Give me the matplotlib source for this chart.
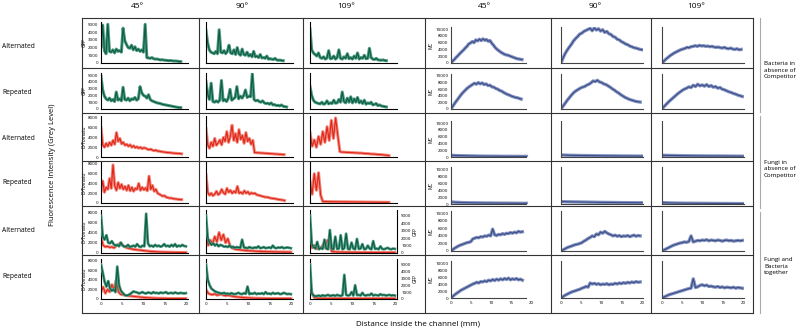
import numpy as np
import matplotlib.pyplot as plt
from matplotlib.lines import Line2D

plt.rcParams['font.family'] = ['Open Sans', 'DejaVu Sans']

W, H = 800, 330

angles = ["45°", "90°", "109°"]
row_names = ["Alternated", "Repeated", "Alternated", "Repeated", "Alternated", "Repeated"]
groups = ["Bacteria in\nabsence of\nCompetitor", "Fungi in\nabsence of\nCompetitor", "Fungi and\nBacteria\ntogether"]
dist_ticks = [0, 5, 10, 15, 20]

# GFP, bacteria alone (grey level), 45 / 90 / 109 degrees
gfp_alt_45 = [2100, 4900, 1600, 1200, 5000, 1500, 1400, 1700, 1300, 1800, 1500, 1600, 1400, 4500, 2900, 2400,
              2000, 1900, 2300, 1700, 2100, 1600, 1800, 1500, 1700, 1400, 5000, 700, 650, 600, 700, 550,
              500, 520, 450, 400, 420, 380, 350, 330, 300, 320, 280, 250, 260, 230, 200, 180]
gfp_alt_90 = [4200, 2600, 1700, 1400, 1300, 1200, 1500, 1200, 4300, 1400, 1300, 1600, 1200, 1500, 2300, 1300,
              1200, 1700, 1100, 2000, 1200, 1000, 1800, 1100, 1000, 1400, 900, 1100, 800, 1500, 800, 900,
              700, 1100, 650, 700, 600, 900, 500, 550, 500, 450, 600, 400, 350, 380, 320, 300]
gfp_alt_109 = [4400, 1700, 1300, 1100, 900, 1300, 700, 600, 800, 500, 650, 1600, 550, 600, 900, 500,
               700, 1700, 600, 500, 800, 600, 1200, 550, 700, 500, 900, 600, 1300, 500, 700, 600,
               1000, 550, 600, 1900, 700, 500, 450, 600, 400, 380, 350, 400, 330, 300]
gfp_rep_45 = [4800, 2800, 1900, 1500, 1300, 1600, 1200, 1400, 1100, 2500, 1300, 1500, 1200, 3200, 1400, 1300,
              1600, 1200, 1500, 1400, 1700, 1300, 1500, 3300, 2400, 2000, 1900, 1600, 2100, 1400, 1200, 1100,
              1000, 900, 850, 800, 700, 650, 600, 550, 500, 450, 400, 350, 300, 250, 220, 200]
gfp_rep_90 = [4000, 2200, 1400, 3800, 1100, 1000, 1200, 1000, 1300, 4200, 1200, 1400, 1100, 1600, 2900, 1300,
              1500, 1700, 3300, 1500, 1900, 1600, 2000, 2800, 1700, 1900, 1800, 5200, 1400, 1200, 1300, 1100,
              1000, 1200, 900, 800, 850, 700, 900, 600, 650, 500, 550, 450, 600, 400, 350, 300]
gfp_rep_109 = [3300, 2000, 1300, 1000, 900, 800, 750, 1000, 700, 800, 1200, 750, 900, 800, 1300, 850,
               900, 1400, 1000, 2500, 1100, 900, 1600, 1000, 1800, 900, 1500, 1000, 1700, 900, 1200, 800,
               1300, 700, 900, 800, 1000, 600, 700, 800, 500, 600, 450, 400, 350, 300]
gfp_alt_end = [18.8, 18.2, 18.0]
gfp_rep_end = [18.8, 19.0, 18.0]

# D-Tomato, fungi alone
tom_alt_45 = [6000, 2500, 2000, 2800, 2200, 3000, 2400, 3400, 2600, 5000, 3200, 3800, 2700, 3000, 2400, 2600,
              2200, 2500, 2000, 2300, 1900, 2100, 1800, 2000, 1700, 1900, 1800, 1600, 1500, 1600, 1400, 1300,
              1400, 1200, 1200, 1100, 1050, 1000, 950, 900, 900, 850, 800, 750, 750, 700, 700, 650]
tom_alt_90 = [5800, 2500, 1800, 3000, 2200, 3800, 2400, 2900, 3500, 2500, 4000, 3200, 5200, 3000, 4200, 6500,
              3400, 4800, 3000, 5600, 3600, 4400, 2800, 5000, 3200, 3800, 2600, 3400, 900, 900, 850, 850,
              800, 800, 750, 750, 700, 700, 650, 650, 600, 600, 550, 550, 500, 500]
tom_alt_109 = [5000, 2200, 3500, 2000, 4200, 2600, 5200, 3000, 6200, 3400, 7500, 3800, 8000, 4500, 1100, 1000,
               1000, 950, 950, 900, 900, 850, 850, 800, 800, 750, 700, 700, 650, 600, 600, 550,
               500, 500, 450, 400, 350, 300]
tom_rep_45 = [2500, 4500, 2200, 3200, 2800, 5000, 3000, 7800, 3500, 2600, 4200, 3000, 3800, 2800, 3400, 2600,
              3600, 2500, 3200, 2400, 3000, 2800, 4000, 2600, 3200, 2700, 3100, 2500, 5500, 2800, 3600, 2400,
              2800, 2000, 1800, 1600, 1400, 1500, 1200, 1100, 1000, 1000, 900, 850, 800, 750, 700, 700]
tom_rep_90 = [5800, 2200, 1600, 2000, 1500, 1800, 2400, 1700, 2000, 2800, 2100, 1800, 3000, 2200, 2600, 2000,
              2400, 2100, 3400, 2000, 2200, 1900, 2500, 2000, 2300, 1800, 2100, 1900, 2000, 1700, 1600, 1500,
              1400, 1300, 1200, 1200, 1100, 1000, 950, 900, 850, 750, 700, 650, 600, 500]
tom_rep_109 = [4500, 1800, 6000, 2600, 6200, 1600, 300, 300, 280, 280, 270, 260, 260, 250, 250, 240,
               240, 230, 230, 220, 220, 210, 210, 200, 200, 190, 190, 180, 180, 170, 170, 160,
               160, 150, 150, 150, 140, 140]
tom_alt_end = [19.0, 18.4, 18.6]
tom_rep_end = [19.0, 18.5, 18.6]

# fungi + bacteria together: GFP (right scale) and D-Tomato (left scale)
mix_gfp_alt_45 = [5000, 2200, 1800, 2400, 1400, 1300, 1600, 1200, 1000, 1100, 900, 1400, 1000, 850, 900, 1100,
                  800, 900, 1000, 850, 1200, 900, 800, 1000, 900, 5300, 1300, 900, 1000, 850, 1100, 900,
                  1000, 850, 950, 1200, 900, 1000, 850, 1100, 900, 1200, 850, 1000, 900, 1100, 950, 900]
mix_gfp_alt_90 = [5000, 2000, 1400, 1100, 1300, 1000, 1200, 900, 1100, 1000, 850, 900, 800, 1000, 750, 850,
                  700, 800, 750, 700, 1800, 750, 700, 650, 800, 700, 650, 750, 700, 900, 650, 700,
                  800, 650, 700, 750, 650, 1000, 700, 650, 750, 700, 800, 650, 700, 750, 700, 650]
mix_gfp_alt_109 = [5000, 1200, 800, 600, 1500, 500, 700, 550, 1800, 600, 500, 3100, 600, 500, 2200, 550,
                   600, 2400, 500, 650, 2600, 550, 500, 1400, 600, 500, 1900, 550, 600, 1200, 500, 550,
                   1000, 600, 500, 1600, 550, 600, 500, 900, 550, 500, 600, 700, 550, 500, 600, 550]
mix_gfp_rep_45 = [5000, 3800, 2500, 1800, 2600, 1500, 1200, 1400, 1000, 4700, 2000, 1200, 900, 600, 500, 550,
                  700, 900, 1100, 1000, 950, 800, 900, 1000, 850, 800, 950, 900, 800, 1000, 850, 900,
                  800, 950, 850, 900, 1000, 800, 850, 900, 800, 950, 850, 800, 900, 850, 800, 850]
mix_gfp_rep_90 = [5000, 2800, 2000, 1500, 1300, 1100, 1000, 900, 850, 800, 900, 750, 800, 700, 850, 750,
                  700, 800, 900, 750, 700, 850, 750, 1800, 700, 800, 750, 900, 700, 800, 750, 850,
                  700, 1000, 750, 800, 700, 900, 750, 800, 850, 700, 750, 900, 800, 700, 750, 700]
mix_gfp_rep_109 = [5000, 800, 500, 400, 450, 500, 400, 550, 450, 500, 600, 450, 500, 550, 450, 600,
                   500, 450, 550, 3500, 600, 500, 550, 1000, 500, 2000, 550, 600, 500, 900, 550, 500,
                   600, 550, 800, 500, 600, 550, 500, 700, 550, 600, 500, 550, 600, 500, 550, 500]
mix_tom_alt_45 = [3000, 1500, 1200, 1300, 1100, 1200, 1000, 1400, 1600, 2000, 1500, 1200, 1000, 900, 800, 700,
                  650, 600, 550, 500, 450, 400, 350, 300, 280, 250, 230, 200, 180, 170, 160, 150,
                  140, 130, 120, 120, 110, 110, 100, 100]
mix_tom_alt_90 = [4000, 1500, 2500, 1800, 3200, 2200, 4000, 2500, 3600, 2000, 2800, 1500, 1000, 800, 700, 650,
                  600, 550, 500, 450, 450, 400, 380, 350, 330, 300, 300, 280, 260, 250, 240, 230,
                  220, 210, 200, 200, 190, 180, 180, 170]
mix_tom_alt_109 = [2000, 1000, 1500, 800, 1200, 900, 1600, 1000, 2500, 1800, 300, 250, 200, 200, 180, 170,
                   160, 150, 150, 140, 140, 130, 130, 120, 120, 110, 110, 100, 100, 100, 100, 100,
                   100, 100, 100, 100, 100, 100, 100, 100]
mix_tom_rep_45 = [1500, 2500, 1200, 2000, 1500, 3000, 2000, 4000, 1500, 1000, 900, 800, 700, 650, 600, 550,
                  500, 450, 400, 350, 300, 280, 250, 230, 200, 180, 160, 150, 140, 130, 120, 110,
                  100, 100, 100, 100, 100, 100, 100, 100]
mix_tom_rep_90 = [2000, 1200, 1000, 900, 1100, 800, 900, 1000, 800, 700, 800, 700, 600, 500, 450, 400,
                  350, 300, 280, 250, 220, 200, 180, 160, 150, 140, 130, 120, 110, 100, 100, 100,
                  100, 100, 100, 100, 100, 100, 100, 100]
mix_tom_rep_109 = [2500, 1200, 300, 200, 150, 150, 120, 120, 100, 100, 100, 100, 100, 100, 100, 100,
                   100, 100, 100, 100, 100, 100, 100, 100, 100, 100, 100, 100, 100, 100, 100, 100,
                   100, 100, 100, 100, 100, 100, 100, 100]
mix_end = [20.0, 20.0, 20.0]

# MC, one row per condition
mc_1_45 = [0, 600, 1100, 1700, 2200, 2800, 3300, 3800, 4400, 4900, 5600, 5900, 6300, 6000, 6800, 6500,
           7000, 6600, 7100, 6700, 6900, 6400, 6600, 5800, 5200, 4500, 4000, 3600, 3200, 2900, 2600, 2400,
           2300, 2100, 1900, 1700, 1500, 1300, 1200, 1100, 1000]
mc_1_90 = [0, 1500, 2800, 3800, 4700, 5500, 6500, 7200, 7800, 8500, 8800, 9300, 9600, 9900, 10200, 9500,
           10300, 9700, 10100, 9400, 9800, 9000, 9300, 8600, 8400, 7800, 7600, 7000, 6800, 6300, 6000, 5600,
           5400, 5000, 4800, 4500, 4400, 4200, 4000, 3900]
mc_1_109 = [0, 600, 1200, 1700, 2200, 2600, 3000, 3300, 3600, 3900, 4100, 4300, 4600, 4500, 4800, 4900,
            5100, 4900, 5200, 5000, 5100, 4900, 5000, 4800, 4900, 4700, 4600, 4700, 4500, 4400, 4600, 4300,
            4200, 4400, 4100, 4000, 4200, 3900, 4000]
mc_2_45 = [0, 900, 1800, 2600, 3400, 4200, 4900, 5500, 6100, 6600, 7000, 7400, 7800, 7500, 8000, 7600,
           7900, 7400, 7600, 7100, 7200, 6700, 6600, 6200, 6000, 5600, 5400, 5000, 4700, 4400, 4200, 3900,
           3700, 3500, 3400, 3200, 3000]
mc_2_90 = [0, 900, 1800, 2700, 3500, 4300, 5000, 5500, 5900, 6300, 6600, 6800, 7200, 7500, 7900, 8500,
           8300, 8700, 8200, 8000, 7600, 7400, 7000, 6600, 6100, 5700, 5200, 4800, 4300, 3900, 3500, 3200,
           2900, 2700, 2500, 2300, 2200, 2100]
mc_2_109 = [0, 800, 1500, 2200, 2800, 3400, 4000, 4600, 5100, 5600, 6000, 6300, 6700, 6500, 7200, 6800,
            7500, 7000, 7300, 6900, 7400, 6800, 7100, 6600, 6800, 6300, 6500, 6000, 5800, 5500, 5200, 5000,
            4700, 4500, 4200, 4000, 3800]
mc_3_45 = [500, 450, 400, 380, 350, 330, 300, 280, 260, 250, 240, 230, 220, 210, 200, 200, 190, 190, 180, 180]
mc_3_90 = [600, 550, 500, 480, 450, 430, 420, 400, 380, 360, 350, 340, 330, 320, 300, 300, 290, 280, 270, 260]
mc_3_109 = [500, 480, 450, 430, 400, 380, 370, 350, 340, 330, 320, 310, 300, 300, 290, 280, 270, 260, 250, 240]
mc_4_45 = [600, 500, 450, 400, 380, 350, 330, 320, 300, 290, 280, 270, 260, 250, 240, 230, 220, 210, 200, 200]
mc_4_90 = [700, 650, 620, 600, 580, 560, 540, 520, 500, 480, 460, 450, 440, 420, 400, 390, 380, 370, 360, 350]
mc_4_109 = [400, 350, 300, 280, 260, 240, 230, 220, 210, 200, 190, 180, 170, 160, 150, 150, 140, 130, 120, 120]
mc_5_45 = [0, 400, 800, 1100, 1400, 1600, 1800, 2000, 2200, 2300, 2500, 3200, 3400, 3600, 3500, 3800,
           3700, 4000, 3900, 4200, 4000, 5800, 4300, 4100, 4400, 4300, 4600, 4400, 4700, 4600, 4900, 4700,
           5000, 4800, 5200, 5000, 5100]
mc_5_90 = [0, 300, 600, 900, 1100, 1300, 1500, 1700, 1800, 2000, 2200, 2600, 2900, 3300, 3600, 4000,
           3800, 4500, 4300, 5000, 4700, 5200, 4800, 4500, 4300, 4000, 4200, 3900, 4100, 3800, 4000, 3900,
           4100, 3800, 4000, 4200, 3900, 4100, 4000]
mc_5_109 = [0, 300, 600, 900, 1200, 1500, 1700, 1900, 2100, 2200, 2400, 2300, 2500, 4000, 2400, 2600,
            2800, 2700, 2900, 2800, 3000, 2700, 2900, 2800, 2700, 2900, 2800, 2600, 2800, 2900, 2700, 2800,
            2600, 2700, 2800, 2700, 2800]
mc_6_45 = [0, 500, 1000, 1400, 1800, 2200, 2500, 2800, 3100, 3400, 3700, 4000, 4200, 4500, 4300, 4700,
           4600, 4900, 4700, 5100, 4900, 5300, 5000, 5400, 5100, 5500, 5200, 5600, 5300, 5700, 5200, 5500,
           5300, 5600, 5200, 5400, 5100]
mc_6_90 = [0, 400, 800, 1100, 1400, 1700, 1900, 2100, 2300, 2500, 2800, 3000, 3300, 3100, 4300, 4000,
           4200, 3900, 4100, 3800, 4000, 3900, 4100, 3800, 4000, 3900, 4200, 4000, 4300, 4100, 4400, 4200,
           4500, 4300, 4600, 4400, 4700, 4500, 4600]
mc_6_109 = [0, 300, 600, 900, 1100, 1300, 1500, 1700, 1900, 2100, 2300, 2500, 2700, 2800, 5500, 3000,
            3200, 3600, 3800, 3500, 3700, 3300, 3400, 3200, 3100, 3300, 3000, 3200, 2900, 3100, 3000, 2900,
            3100, 2800, 3000, 2900, 2800]
mc_end = [[17.7, 20.0, 19.5], [17.5, 19.5, 19.8], [18.8, 20.3, 20.0],
          [18.8, 20.0, 20.0], [17.8, 19.5, 19.8], [17.8, 19.5, 19.8]]

gfp_rows = [[gfp_alt_45, gfp_alt_90, gfp_alt_109], [gfp_rep_45, gfp_rep_90, gfp_rep_109]]
tom_rows = [[tom_alt_45, tom_alt_90, tom_alt_109], [tom_rep_45, tom_rep_90, tom_rep_109]]
mix_gfp_rows = [[mix_gfp_alt_45, mix_gfp_alt_90, mix_gfp_alt_109], [mix_gfp_rep_45, mix_gfp_rep_90, mix_gfp_rep_109]]
mix_tom_rows = [[mix_tom_alt_45, mix_tom_alt_90, mix_tom_alt_109], [mix_tom_rep_45, mix_tom_rep_90, mix_tom_rep_109]]
mc_rows = [[mc_1_45, mc_1_90, mc_1_109], [mc_2_45, mc_2_90, mc_2_109], [mc_3_45, mc_3_90, mc_3_109],
           [mc_4_45, mc_4_90, mc_4_109], [mc_5_45, mc_5_90, mc_5_109], [mc_6_45, mc_6_90, mc_6_109]]

GREEN, GREEN_L = "#0a5c45", "#4f9a80"
RED, RED_L = "#e0261a", "#f2877a"
BLUE, BLUE_L = "#394c86", "#8391c0"


def box(x0, y0, x1, y1):
    # pixel box (origin top-left) -> figure fraction rect
    return [x0 / W, 1 - y1 / H, (x1 - x0) / W, (y1 - y0) / H]


def trace(ax, vals, end, dark, light, lw=2.2):
    x = np.linspace(0, end, len(vals))
    ax.plot(x, vals, color=light, lw=lw, solid_joinstyle="round")
    ax.plot(x, vals, color=dark, lw=0.8)


def style(ax, ymax, step, show_y, show_x, spine="black"):
    ax.set_xlim(0, 20.5)
    ax.set_ylim(0, ymax)
    for s in ["top", "right"]:
        ax.spines[s].set_visible(False)
    for s in ["left", "bottom"]:
        ax.spines[s].set_color(spine)
        ax.spines[s].set_linewidth(0.8)
    ax.tick_params(length=0, labelsize=3.2, pad=2)
    ax.set_yticks(np.arange(0, ymax, step))
    ax.set_xticks(dist_ticks)
    if not show_y:
        ax.set_yticklabels([])
    if not show_x:
        ax.set_xticklabels([])
    ax.patch.set_alpha(0)


fig = plt.figure(figsize=(W / 100, H / 100), dpi=100)

left_x = [(101, 188), (206, 293), (310, 397)]
left_y = [(22, 63), (73, 109), (116, 157), (162, 203), (210, 253), (259, 299)]
right_x = [(451, 532), (561, 643), (662, 744)]
right_y = [(27, 63), (74, 109), (121, 157), (167, 204), (211, 251), (261, 298)]

# left block: GFP / D-Tomato
for r in range(6):
    for c in range(3):
        ax = fig.add_axes(box(left_x[c][0], left_y[r][0], left_x[c][1], left_y[r][1]))
        last = r == 5
        if r < 2:
            trace(ax, gfp_rows[r][c], [gfp_alt_end, gfp_rep_end][r][c], GREEN, GREEN_L)
            style(ax, 5300, 1000, c == 0, last)
            if c == 0:
                ax.set_ylabel("GFP", fontsize=3.5, labelpad=1)
        elif r < 4:
            trace(ax, tom_rows[r - 2][c], [tom_alt_end, tom_rep_end][r - 2][c], RED, RED_L)
            style(ax, 8400, 2000, c == 0, last)
            if c == 0:
                ax.set_ylabel("D-Tomato", fontsize=3.5, labelpad=1)
        else:
            trace(ax, mix_tom_rows[r - 4][c], mix_end[c], RED, RED_L)
            style(ax, 8400, 2000, c == 0, last)
            if c == 0:
                ax.set_ylabel("D-Tomato", fontsize=3.5, labelpad=1)
            ax2 = ax.twinx()
            trace(ax2, mix_gfp_rows[r - 4][c], mix_end[c], GREEN, GREEN_L, lw=2.0)
            ax2.set_ylim(0, 5800)
            ax2.set_xlim(0, 20.5)
            for s in ["top", "left", "bottom"]:
                ax2.spines[s].set_visible(False)
            ax2.spines["right"].set_visible(c == 2)
            ax2.spines["right"].set_linewidth(0.8)
            ax2.tick_params(length=0, labelsize=3.2, pad=3)
            ax2.set_yticks(np.arange(0, 5001, 1000))
            if c == 2:
                ax2.set_ylabel("GFP", fontsize=3.5, labelpad=1)
            else:
                ax2.set_yticklabels([])

# right block: MC
for r in range(6):
    for c in range(3):
        ax = fig.add_axes(box(right_x[c][0], right_y[r][0], right_x[c][1], right_y[r][1]))
        trace(ax, mc_rows[r][c], mc_end[r][c], BLUE, BLUE_L, lw=2.4)
        style(ax, 10600, 2000, c == 0, r == 5, spine="#444444")
        ax.set_xlim(0, 20.2)
        if c == 0:
            ax.spines["bottom"].set_bounds(0, 18.6)
            ax.set_ylabel("MC", fontsize=3.5, labelpad=1)

# cell borders
grid_x = [82, 199, 303, 425, 551, 651, 753]
grid_y = [18, 68, 113, 161, 206, 255, 313]
for gx in grid_x:
    fig.add_artist(Line2D([gx / W, gx / W], [1 - 18 / H, 1 - 313 / H], color="#333333", lw=0.8))
for gy in grid_y:
    fig.add_artist(Line2D([82 / W, 753 / W], [1 - gy / H, 1 - gy / H], color="#333333", lw=0.8))

# group brackets
for y0, y1 in [(18, 112), (116, 208), (212, 313)]:
    fig.add_artist(Line2D([760 / W, 760 / W], [1 - y0 / H, 1 - y1 / H], color="#aaaaaa", lw=0.8))

for c, a in enumerate(angles):
    fig.text((sum(left_x[c]) / 2 - 7) / W, 1 - 6 / H, a, ha="center", va="center", fontsize=6)
    fig.text((sum(right_x[c]) / 2 - 7) / W, 1 - 6 / H, a, ha="center", va="center", fontsize=6)

row_centres = [46, 92, 139, 183, 231, 277]
for name, yc in zip(row_names, row_centres):
    fig.text(2 / W, 1 - yc / H, name, ha="left", va="center", fontsize=4.8)

for g, yc in zip(groups, [70, 169, 266]):
    fig.text(764 / W, 1 - yc / H, g, ha="left", va="center", fontsize=4.5, linespacing=1.3)

fig.text(52 / W, 1 - 165 / H, "Fluorescence Intensity (Grey Level)", rotation=90,
         ha="center", va="center", fontsize=5.5)
fig.text(418 / W, 1 - 324 / H, "Distance inside the channel (mm)", ha="center", va="center", fontsize=5.8)

fig.savefig("out.png", dpi=100)
